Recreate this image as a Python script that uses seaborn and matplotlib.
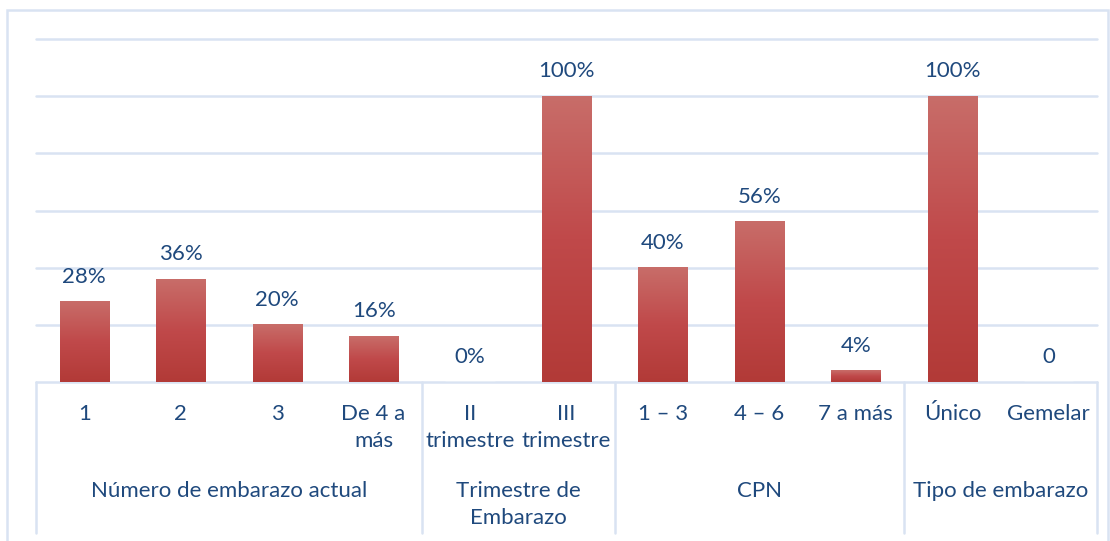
import numpy as np
import pandas as pd
import matplotlib
matplotlib.use("Agg")
import matplotlib.pyplot as plt
import seaborn as sns
from matplotlib.colors import LinearSegmentedColormap
from matplotlib.patches import Rectangle
from matplotlib.lines import Line2D
from matplotlib.transforms import blended_transform_factory

# Data
categories = ["1", "2", "3", "De 4 a\nmás", "II\ntrimestre", "III\ntrimestre",
              "1 – 3", "4 – 6", "7 a más", "Único", "Gemelar"]
values = [28, 36, 20, 16, 0, 100, 40, 56, 4, 100, 0]
value_labels = ["28%", "36%", "20%", "16%", "0%", "100%", "40%", "56%", "4%", "100%", "0"]
groups = ["Número de embarazo actual", "Trimestre de\nEmbarazo", "CPN", "Tipo de embarazo"]
group_sizes = [4, 2, 3, 2]
y_ticks = [0, 20, 40, 60, 80, 100, 120]

TEXT = "#1F497D"
GRID = "#D9E3F2"
FS = 16

sns.set_theme(style="white")
plt.rcParams["font.family"] = ["Lato", "DejaVu Sans"]

W, H = 1110, 541
fig = plt.figure(figsize=(W / 100, H / 100), dpi=100)
fig.patch.set_facecolor("white")

# outer chart frame
fig.add_artist(Rectangle((7 / W, -0.05), (1108 - 7) / W, 1.05 - 10 / H,
                         transform=fig.transFigure, fill=False,
                         edgecolor=GRID, linewidth=1.8))

ax = fig.add_axes([36 / W, 1 - 382 / H, (1097 - 36) / W, (382 - 39) / H])
df = pd.DataFrame({"cat": categories, "val": values})
sns.barplot(data=df, x="cat", y="val", order=categories, color="#C0504D",
            width=0.51, saturation=1, ax=ax, zorder=3)

# vertical gradient fill for every bar
cmap = LinearSegmentedColormap.from_list("bar", ["#B23A37", "#C0494A", "#C86D69"])
grad = np.linspace(0, 1, 256).reshape(-1, 1)
for p in ax.patches:
    x0, y0 = p.get_x(), p.get_y()
    w, h = p.get_width(), p.get_height()
    if h <= 0:
        continue
    ax.imshow(grad, extent=[x0, x0 + w, y0, y0 + h], origin="lower",
              aspect="auto", cmap=cmap, zorder=3.5, interpolation="bicubic")
    p.set_facecolor("none")
    p.set_edgecolor("none")

ax.set_xlim(-0.5, len(categories) - 0.5)
ax.set_ylim(0, 120)
ax.set_aspect("auto")
ax.set_yticks(y_ticks)
ax.yaxis.grid(True, color=GRID, linewidth=1.8)
for gl in ax.get_ygridlines():
    gl.set_clip_on(False)
ax.set_axisbelow(True)
ax.tick_params(labelleft=False, labelbottom=False, length=0)
ax.set_xlabel("")
ax.set_ylabel("")
for s in ax.spines.values():
    s.set_visible(False)

# value labels above bars
for i, (v, lab) in enumerate(zip(values, value_labels)):
    ax.annotate(lab, xy=(i, v), xytext=(0, 25), textcoords="offset pixels",
                ha="center", va="center", color=TEXT, fontsize=FS)

# category labels, one text per line
trans = blended_transform_factory(ax.transData, ax.transAxes)
for i, cat in enumerate(categories):
    for k, line in enumerate(cat.split("\n")):
        ax.annotate(line, xy=(i, 0), xycoords=trans, xytext=(0, -32 - 27 * k),
                    textcoords="offset pixels", ha="center", va="center",
                    color=TEXT, fontsize=FS, annotation_clip=False)

# group labels and separators
ax_h = 382 - 39
sep_bottom = -(533 - 382) / ax_h
start = 0
bounds = [-0.5]
for g, n in zip(groups, group_sizes):
    center = start + (n - 1) / 2
    for k, line in enumerate(g.split("\n")):
        ax.annotate(line, xy=(center, 0), xycoords=trans, xytext=(0, -109 - 27 * k),
                    textcoords="offset pixels", ha="center", va="center",
                    color=TEXT, fontsize=FS, annotation_clip=False)
    start += n
    bounds.append(start - 0.5)
for b in bounds:
    ax.add_line(Line2D([b, b], [0, sep_bottom], transform=trans, color=GRID,
                       linewidth=1.8, clip_on=False))

fig.savefig("out.png", dpi=100, facecolor="white")
